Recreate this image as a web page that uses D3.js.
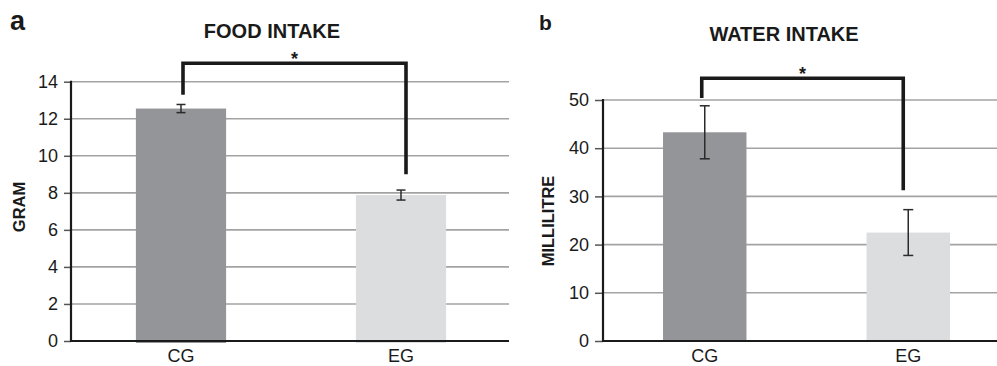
<!DOCTYPE html>
<html>
<head>
<meta charset="utf-8">
<script src="https://cdn.jsdelivr.net/npm/d3@7"></script>
<style>
  body { margin: 0; background: #fff; }
  text { font-family: "Liberation Sans", Arial, sans-serif; fill: #1a1a1a; }
</style>
</head>
<body>
<div id="chart"></div>
<script>
const categories = ["CG", "EG"];

const foodMeans = [12.55, 7.88];
const foodErrors = [0.22, 0.27];
const foodTicks = [0, 2, 4, 6, 8, 10, 12, 14];
const foodBracket = [13.3, 15.0, 9.0]; // left leg end, top, right leg end

const waterMeans = [43.3, 22.5];
const waterErrors = [5.5, 4.75];
const waterTicks = [0, 10, 20, 30, 40, 50];
const waterBracket = [50.4, 54.5, 31.3];

const barColors = ["#949598", "#dcdddf"];

const svg = d3.select("#chart")
    .append("svg")
    .attr("width", 997)
    .attr("height", 366);

function panel(opts) {
    const g = svg.append("g");

    const x = d3.scaleBand()
        .domain(categories)
        .range([opts.left, opts.right])
        .paddingInner(0.59)
        .paddingOuter(0.295);

    const y = d3.scaleLinear()
        .domain([0, d3.max(opts.ticks)])
        .range([opts.bottom, opts.top]);

    /* gridlines */
    g.selectAll("line.grid")
        .data(opts.ticks.slice(1))
        .enter()
        .append("line")
        .attr("x1", opts.left)
        .attr("x2", opts.gridEnd)
        .attr("y1", d => y(d))
        .attr("y2", d => y(d))
        .attr("stroke", "#a3a3a3")
        .attr("stroke-width", 1.6);

    /* bars */
    g.selectAll("rect")
        .data(opts.means)
        .enter()
        .append("rect")
        .attr("x", (d, i) => x(categories[i]))
        .attr("y", d => y(d))
        .attr("width", x.bandwidth())
        .attr("height", d => y(0) - y(d) + opts.barDrop)
        .attr("fill", (d, i) => barColors[i]);

    /* error bars */
    const eb = g.selectAll("g.err")
        .data(opts.means)
        .enter()
        .append("g")
        .attr("stroke", "#2b2b2b")
        .attr("stroke-width", 1.5);
    const cx = i => x(categories[i]) + x.bandwidth() / 2;
    eb.append("line")
        .attr("x1", (d, i) => cx(i)).attr("x2", (d, i) => cx(i))
        .attr("y1", (d, i) => y(d + opts.errors[i]))
        .attr("y2", (d, i) => y(d - opts.errors[i]));
    [1, -1].forEach(s => {
        eb.append("line")
            .attr("x1", (d, i) => cx(i) - opts.cap).attr("x2", (d, i) => cx(i) + opts.cap)
            .attr("y1", (d, i) => y(d + s * opts.errors[i]))
            .attr("y2", (d, i) => y(d + s * opts.errors[i]));
    });

    /* y axis */
    const yAxis = g.append("g")
        .attr("transform", `translate(${opts.left},0)`)
        .call(d3.axisLeft(y).tickValues(opts.ticks).tickSize(opts.tickLen).tickPadding(6));
    yAxis.select(".domain").remove();
    yAxis.selectAll(".tick line").attr("stroke", "#555").attr("stroke-width", 1.5);
    yAxis.selectAll(".tick text")
        .attr("font-size", 18)
        .attr("font-family", "Liberation Sans, Arial, sans-serif")
        .attr("fill", "#1a1a1a");

    g.append("line")
        .attr("x1", opts.left).attr("x2", opts.left)
        .attr("y1", y(d3.max(opts.ticks)) - 1).attr("y2", y(0) + 1)
        .attr("stroke", "#1a1a1a").attr("stroke-width", 2.2);

    /* x axis */
    const xAxis = g.append("g")
        .attr("transform", `translate(0,${y(0)})`)
        .call(d3.axisBottom(x).tickSize(0).tickPadding(8));
    xAxis.select(".domain").remove();
    xAxis.selectAll(".tick text")
        .attr("font-size", 18)
        .attr("font-family", "Liberation Sans, Arial, sans-serif")
        .attr("fill", "#1a1a1a");
    g.append("line")
        .attr("x1", opts.left).attr("x2", opts.gridEnd)
        .attr("y1", y(0)).attr("y2", y(0))
        .attr("stroke", "#1a1a1a").attr("stroke-width", 2.2);

    /* significance bracket */
    const b = opts.bracket;
    const bx0 = cx(0) + opts.bracketShift[0], bx1 = cx(1) + opts.bracketShift[1];
    g.append("path")
        .attr("d", `M${bx0},${y(b[0])}V${y(b[1])}H${bx1}V${y(b[2])}`)
        .attr("fill", "none")
        .attr("stroke", "#1a1a1a")
        .attr("stroke-width", 3.6);
    g.append("text")
        .attr("x", (bx0 + bx1) / 2)
        .attr("y", y(b[1]) + 1.5)
        .attr("text-anchor", "middle")
        .attr("font-size", 18)
        .attr("font-weight", "bold")
        .text("*");

    /* titles */
    g.append("text")
        .attr("x", opts.titleX)
        .attr("y", opts.titleY)
        .attr("text-anchor", "middle")
        .attr("font-size", 20)
        .attr("font-weight", "bold")
        .text(opts.title);

    g.append("text")
        .attr("transform", `translate(${opts.labelX},${opts.labelY}) rotate(-90)`)
        .attr("text-anchor", "middle")
        .attr("font-size", 16.5)
        .attr("font-weight", "bold")
        .text(opts.label);

    g.append("text")
        .attr("x", opts.letterX)
        .attr("y", 30)
        .attr("font-size", opts.letterSize)
        .attr("font-weight", "bold")
        .text(opts.letter);
}

panel({
    left: 71, right: 511, gridEnd: 509, top: 81.7, bottom: 341,
    means: foodMeans, errors: foodErrors, ticks: foodTicks, bracket: foodBracket,
    bracketShift: [2, 5], cap: 4.5, tickLen: 7, barDrop: 2,
    title: "FOOD INTAKE", titleX: 272, titleY: 38,
    label: "GRAM", labelX: 25, labelY: 207,
    letter: "a", letterX: 10, letterSize: 27
});

panel({
    left: 603, right: 1010, gridEnd: 1010, top: 100, bottom: 341,
    means: waterMeans, errors: waterErrors, ticks: waterTicks, bracket: waterBracket,
    bracketShift: [-3, -5], cap: 5, tickLen: 8, barDrop: 0,
    title: "WATER INTAKE", titleX: 784, titleY: 41,
    label: "MILLILITRE", labelX: 554, labelY: 221,
    letter: "b", letterX: 539, letterSize: 21
});
</script>
</body>
</html>
